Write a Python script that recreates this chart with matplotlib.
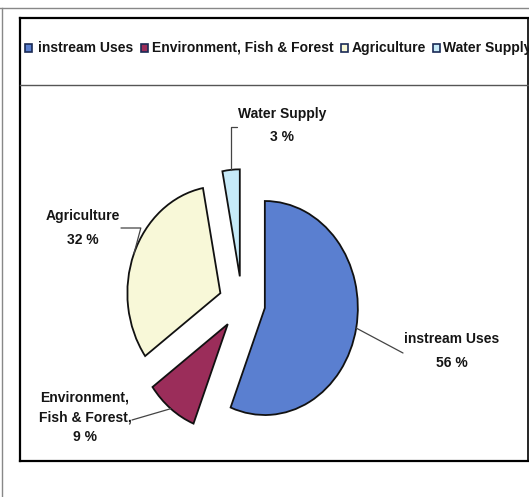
import matplotlib
matplotlib.use("Agg")
import matplotlib.pyplot as plt
import numpy as np
from matplotlib.patches import Rectangle
from matplotlib.lines import Line2D

# --- chart data ---
categories = ["instream Uses", "Environment, Fish & Forest", "Agriculture", "Water Supply"]
label_text = ["instream Uses", "Environment,\nFish & Forest,", "Agriculture", "Water Supply"]
shares = [56, 9, 32, 3]
colors = ["#5a7fd0", "#9b2d5a", "#f8f8d8", "#c6eaf8"]

W, H = 529, 497
plt.rcParams["font.family"] = ["Liberation Sans", "DejaVu Sans"]


def fx(px):
    return px / W


def fy(py):
    return 1 - py / H


fig = plt.figure(figsize=(W / 100, H / 100), dpi=100)

# pie axes: centre at pixel (242, 303), radius 93 px wide, 107 px tall (stretched scan)
cx, cy, rx, ry = 242, 303, 93, 107
ax_l, ax_r, ax_t, ax_b = 20, 528, 85, 460
ax = fig.add_axes([fx(ax_l), 1 - ax_b / H, (ax_r - ax_l) / W, (ax_b - ax_t) / H])
explode = [0.25] * len(shares)
wedges, _ = ax.pie(shares, colors=colors, startangle=90, counterclock=False,
                   explode=explode, wedgeprops=dict(edgecolor="#111111", linewidth=1.3))
ax.set_aspect("auto")
ax.set_xlim((ax_l - cx) / rx, (ax_r - cx) / rx)
ax.set_ylim((cy - ax_b) / ry, (cy - ax_t) / ry)
ax.axis("off")

# labels: top of text block (px), line spacing, leader start (px), connection style
label_pos = [(452, 332), (85, 391), (83, 209), (282, 107)]
label_spacing = [1.95, 1.5, 1.95, 1.85]
leader_start = [(403, 353), (132, 420), (121, 228), (237, 127)]
conn = ["arc3", "arc3", "angle,angleA=0,angleB=75,rad=0", "angle,angleA=0,angleB=90,rad=0"]

for i, w in enumerate(wedges):
    mid = np.deg2rad((w.theta1 + w.theta2) / 2)
    r = 1 + explode[i]
    tip = (r * np.cos(mid), r * np.sin(mid))
    tx, ty = label_pos[i]
    fig.text(fx(tx), fy(ty), label_text[i] + "\n" + f"{shares[i]} %",
             ha="center", va="top", fontsize=10, fontweight="bold",
             linespacing=label_spacing[i], color="#151515")
    sx, sy = leader_start[i]
    ax.annotate("", xy=tip, xycoords="data", xytext=(sx, H - sy),
                textcoords="figure pixels",
                arrowprops=dict(arrowstyle="-", color="#444444", lw=0.9,
                                shrinkA=0, shrinkB=0, connectionstyle=conn[i]))

# legend row (runs past the right edge like the original)
leg_box_x = [25, 141, 341, 433]
leg_text_x = [38, 152, 352, 443]
leg_y = 48
for i, name in enumerate(categories):
    fig.patches.append(Rectangle((fx(leg_box_x[i]), fy(leg_y + 4)), 7 / W, 8 / H,
                                 transform=fig.transFigure, facecolor=colors[i],
                                 edgecolor="#1a2a55", linewidth=1.2))
    fig.text(fx(leg_text_x[i]), fy(leg_y), name, ha="left", va="center",
             fontsize=10, fontweight="bold", color="#151515")


# frames
def hline(y, x0, x1, c="black", lw=1.5):
    fig.add_artist(Line2D([fx(x0), fx(x1)], [fy(y), fy(y)], color=c, lw=lw,
                          transform=fig.transFigure))


def vline(x, y0, y1, c="black", lw=1.5):
    fig.add_artist(Line2D([fx(x), fx(x)], [fy(y0), fy(y1)], color=c, lw=lw,
                          transform=fig.transFigure))


hline(8, 0, W, c="#888888", lw=1.0)
vline(2, 8, H, c="#888888", lw=1.0)
hline(18, 20, W, lw=1.6)
vline(20, 18, 461, lw=1.6)
hline(461, 20, W, lw=1.6)
vline(527.5, 18, 461, lw=1.2)
hline(85, 20, W, c="#555555", lw=1.0)

fig.savefig("out.png", dpi=100, facecolor="white")
